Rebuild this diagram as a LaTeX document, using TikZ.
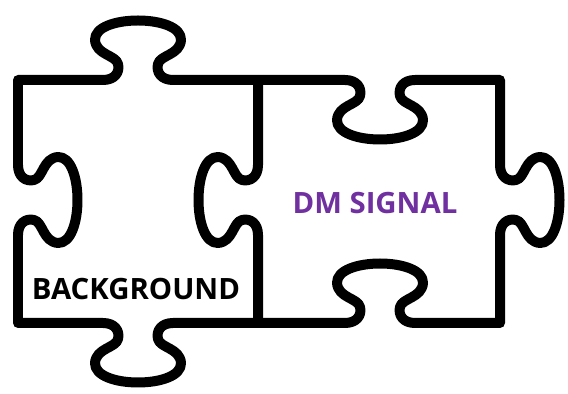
\documentclass[tikz,border=0pt]{standalone}
\usepackage{fontspec}
\setmainfont{Open Sans}
\definecolor{dmpurple}{HTML}{7030A0}

% one knob of a puzzle edge, drawn along +x and sticking out "up"
\newcommand\knob{-- (-35,0)
  .. controls (-23,0) and (-18,-8) .. (-20,-16)
  .. controls (-22,-25) and (-42,-25) .. (-43,-40)
  .. controls (-44,-66) and (44,-66) .. (43,-40)
  .. controls (42,-25) and (22,-25) .. (20,-16)
  .. controls (18,-8) and (23,0) .. (35,0)}

\begin{document}
\begin{tikzpicture}[
    x=0.02cm, y=-0.02cm,
    piece/.style={draw=black, line width=0.2cm, line join=round},
    caption/.style={font=\bfseries\fontsize{16.7}{20}\selectfont, inner sep=0pt}
]
\useasboundingbox (0,0) rectangle (568,394);

% left piece
\draw[piece] (18,80)
  {[shift={(138,80)}] \knob}
  -- (258,80)
  {[shift={(258,200)}, rotate=-90, yscale=-1] \knob}
  -- (258,323)
  {[shift={(138,323)}, rotate=180] \knob}
  -- (18,323)
  {[shift={(18,200)}, rotate=90, yscale=-1] \knob}
  -- cycle;

% right piece, sharing the middle edge
\draw[piece] (258,80)
  {[shift={(380,80)}, yscale=-1] \knob}
  -- (500,80)
  {[shift={(500,200)}, rotate=-90] \knob}
  -- (500,323)
  {[shift={(380,323)}, rotate=180, yscale=-1] \knob}
  -- (258,323);

\node[caption] (background) at (136,289) {BACKGROUND};
\node[caption, text=dmpurple] (dmsignal) at (375,203) {DM SIGNAL};

\end{tikzpicture}
\end{document}
